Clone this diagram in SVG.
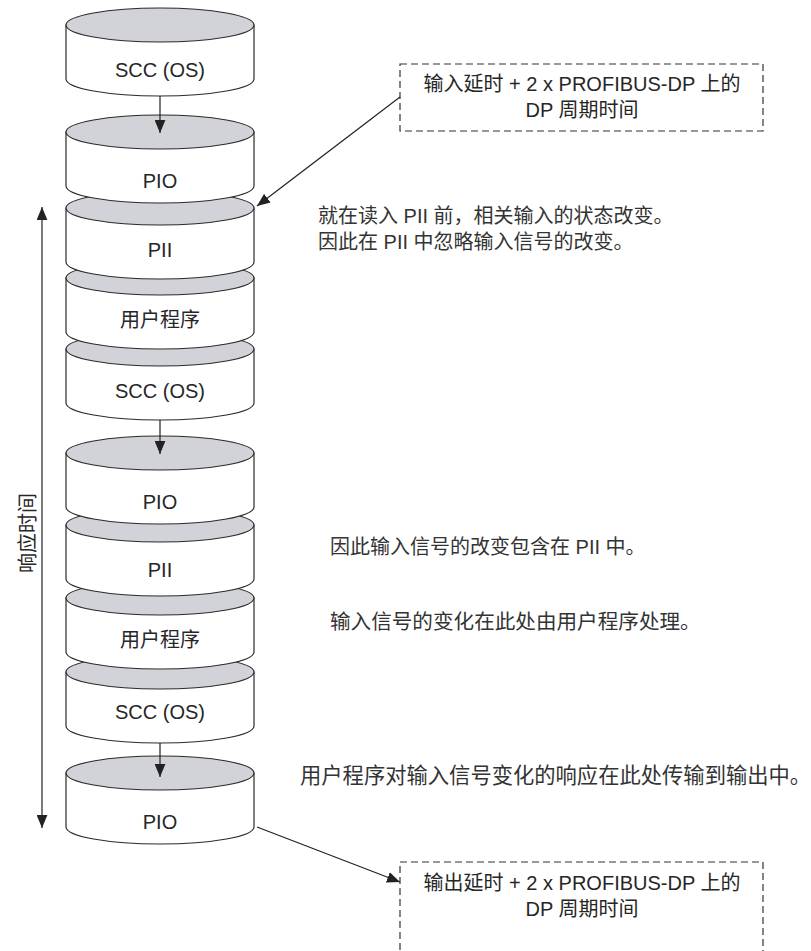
<svg xmlns="http://www.w3.org/2000/svg" width="811" height="951" viewBox="0 0 811 951">
<style>
.body{fill:#ffffff;stroke:#2b2b2b;stroke-width:1.2}
.top{fill:#d1d3d8;stroke:#2b2b2b;stroke-width:1.2}
.lbl{font-family:"Liberation Sans","Noto Sans CJK SC",sans-serif;font-size:20px;fill:#262626;text-anchor:middle}
.txt{font-family:"Liberation Sans","Noto Sans CJK SC",sans-serif;font-size:20px;fill:#333333}
.box{fill:none;stroke:#333333;stroke-width:1.2;stroke-dasharray:7 4}
.ln{fill:none;stroke:#222222;stroke-width:1.2}
</style>
<defs>
<marker id="ah" viewBox="0 0 12 10" refX="12" refY="5" markerWidth="13" markerHeight="11" markerUnits="userSpaceOnUse" orient="auto-start-reverse">
<path d="M0,0 L12,5 L0,10 z" fill="#222222"/>
</marker>
</defs>
<rect width="811" height="951" fill="#ffffff"/>

<g id="pio3">
<path class="body" d="M66,773 L66,827 A94,17 0 0 0 254,827 L254,773 Z"/>
<ellipse class="top" cx="160" cy="773" rx="94" ry="17"/>
<text class="lbl" x="160" y="829">PIO</text>
</g>
<g id="scc3">
<path class="body" d="M66,672 L66,726 A94,17 0 0 0 254,726 L254,672 Z"/>
<ellipse class="top" cx="160" cy="672" rx="94" ry="17"/>
<text class="lbl" x="160" y="719">SCC (OS)</text>
</g>
<g id="user2">
<path class="body" d="M66,598 L66,652 A94,17 0 0 0 254,652 L254,598 Z"/>
<ellipse class="top" cx="160" cy="598" rx="94" ry="17"/>
<text class="lbl" x="160" y="647">用户程序</text>
</g>
<g id="pii2">
<path class="body" d="M66,525 L66,579 A94,17 0 0 0 254,579 L254,525 Z"/>
<ellipse class="top" cx="160" cy="525" rx="94" ry="17"/>
<text class="lbl" x="160" y="577">PII</text>
</g>
<g id="pio2">
<path class="body" d="M66,453 L66,507 A94,17 0 0 0 254,507 L254,453 Z"/>
<ellipse class="top" cx="160" cy="453" rx="94" ry="17"/>
<text class="lbl" x="160" y="509">PIO</text>
</g>
<g id="scc2">
<path class="body" d="M66,349 L66,403 A94,17 0 0 0 254,403 L254,349 Z"/>
<ellipse class="top" cx="160" cy="349" rx="94" ry="17"/>
<text class="lbl" x="160" y="398">SCC (OS)</text>
</g>
<g id="user1">
<path class="body" d="M66,278 L66,332 A94,17 0 0 0 254,332 L254,278 Z"/>
<ellipse class="top" cx="160" cy="278" rx="94" ry="17"/>
<text class="lbl" x="160" y="327">用户程序</text>
</g>
<g id="pii1">
<path class="body" d="M66,208 L66,262 A94,17 0 0 0 254,262 L254,208 Z"/>
<ellipse class="top" cx="160" cy="208" rx="94" ry="17"/>
<text class="lbl" x="160" y="257">PII</text>
</g>
<g id="pio1">
<path class="body" d="M66,132 L66,186 A94,17 0 0 0 254,186 L254,132 Z"/>
<ellipse class="top" cx="160" cy="132" rx="94" ry="17"/>
<text class="lbl" x="160" y="188">PIO</text>
</g>
<g id="scc1">
<path class="body" d="M66,25 L66,79 A94,17 0 0 0 254,79 L254,25 Z"/>
<ellipse class="top" cx="160" cy="25" rx="94" ry="17"/>
<text class="lbl" x="160" y="77">SCC (OS)</text>
</g>

<g id="note-input">
<rect class="box" x="400" y="64" width="363" height="67"/>
<text class="lbl" x="582" y="91">输入延时 + 2 x PROFIBUS-DP 上的</text>
<text class="lbl" x="582" y="117">DP 周期时间</text>
</g>
<g id="note-output">
<rect class="box" x="400" y="862" width="363" height="110"/>
<text class="lbl" x="582" y="890">输出延时 + 2 x PROFIBUS-DP 上的</text>
<text class="lbl" x="582" y="916">DP 周期时间</text>
</g>

<g id="response-time">
<text class="lbl" transform="translate(28,533) rotate(-90)" x="0" y="7">响应时间</text>
</g>

<g id="annotations">
<text class="txt" x="318" y="223">就在读入 PII 前，相关输入的状态改变。</text>
<text class="txt" x="318" y="249">因此在 PII 中忽略输入信号的改变。</text>
<text class="txt" x="330" y="554">因此输入信号的改变包含在 PII 中。</text>
<text class="txt" x="330" y="629" style="font-size:20.6px">输入信号的变化在此处由用户程序处理。</text>
<text class="txt" x="300" y="783" style="font-size:21.3px">用户程序对输入信号变化的响应在此处传输到输出中。</text>
</g>

<g id="connectors">
<line class="ln" x1="160" y1="96" x2="160" y2="133" marker-end="url(#ah)"/>
<line class="ln" x1="160" y1="420" x2="160" y2="454" marker-end="url(#ah)"/>
<line class="ln" x1="160" y1="743" x2="160" y2="777" marker-end="url(#ah)"/>
<line class="ln" x1="42" y1="207" x2="42" y2="828" marker-start="url(#ah)" marker-end="url(#ah)"/>
<line class="ln" x1="400" y1="97" x2="257" y2="206" marker-end="url(#ah)"/>
<line class="ln" x1="257" y1="827" x2="400" y2="882" marker-end="url(#ah)"/>
</g>
</svg>
